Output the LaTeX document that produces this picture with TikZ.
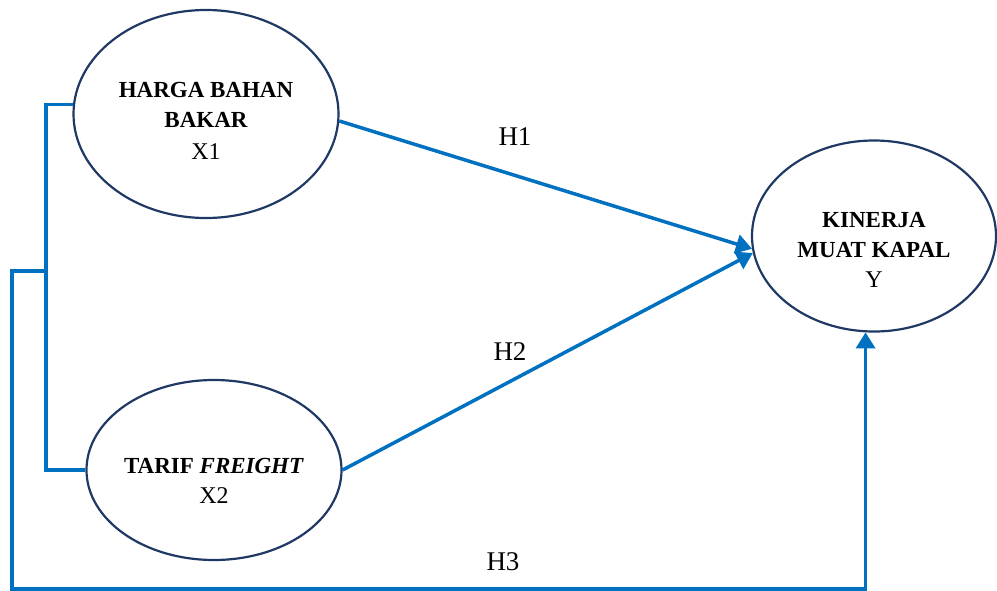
\documentclass[tikz,border=0pt]{standalone}
\usepackage{fontspec}
\setmainfont{Liberation Serif}
\usetikzlibrary{shapes.geometric,arrows.meta}
\definecolor{navy}{HTML}{1F3864}
\definecolor{linkblue}{HTML}{0070C0}
\begin{document}
\begin{tikzpicture}[x=1pt,y=-1pt,
    var/.style={ellipse, draw=navy, line width=2.2pt, inner sep=0pt},
    vartext/.style={align=center, font=\fontsize{23}{30}\selectfont\bfseries},
    link/.style={linkblue, line width=3.5pt},
    arrow/.style={link, -{Triangle[length=16pt,width=19pt]}},
    hyp/.style={font=\fontsize{27}{30}\selectfont}]
    \useasboundingbox (0,0) rectangle (997,590);

    % Draw the variables
    \node[var, minimum width=265, minimum height=208] (x1) at (206,114) {};
    \node[var, minimum width=255, minimum height=180] (x2) at (214,470) {};
    \node[var, minimum width=244, minimum height=191] (y) at (874,236) {};

    % Variable names, set a little below the centres
    \node[vartext] (x1name) at ([yshift=-7]x1.center)
        {HARGA BAHAN\\BAKAR\\[2pt]{\mdseries\fontsize{24}{30}\selectfont X1}};
    \node[vartext] (x2name) at ([yshift=-11]x2.center)
        {TARIF \textit{FREIGHT}\\{\mdseries\fontsize{24}{30}\selectfont X2}};
    \node[vartext] (yname) at ([yshift=-14]y.center)
        {KINERJA\\MUAT KAPAL\\{\mdseries\fontsize{24}{30}\selectfont Y}};

    % Define the rail joining X1 and X2
    \coordinate (rail) at (46,0);
    \coordinate (hub) at (46,271);
    \coordinate (base) at (12,589);

    % Draw the rail and the joint path
    \draw[link] (x1.176) -- (x1.176 -| rail) |- (x2.west);
    \draw[arrow] (hub) -| (base) -| (y.265);

    % Draw the direct paths
    \draw[arrow] (x1.357) -- (y.186);
    \draw[arrow] (x2.east) -- (y.188);

    % Hypothesis labels
    \node[hyp] (h1) at (515,137) {H1};
    \node[hyp] (h2) at (510,352) {H2};
    \node[hyp] (h3) at (503,562) {H3};
\end{tikzpicture}
\end{document}
